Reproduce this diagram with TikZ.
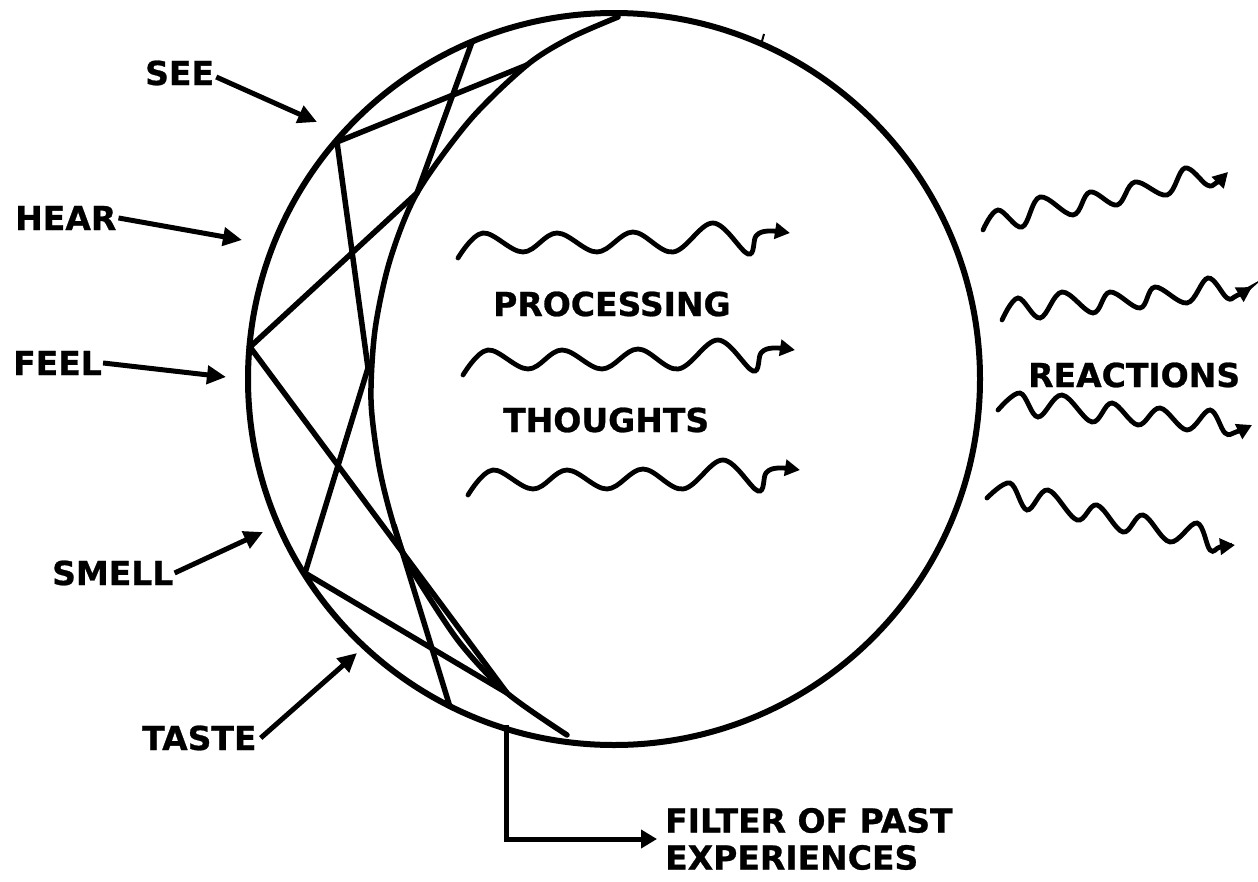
\documentclass[tikz,border=0pt]{standalone}
\usepackage{fontspec}
\setmainfont{DejaVu Sans}[BoldFeatures={FakeBold=0.8}]
\usetikzlibrary{arrows.meta}
\begin{document}
\begin{tikzpicture}[x=1pt,y=-1pt,
  lbl/.style={font=\fontsize{33}{37}\selectfont\bfseries, inner sep=0pt, anchor=base west},
  pointer/.style={line width=5pt, -{Triangle[length=19pt,width=18pt]}},
  rim/.style={line width=6pt},
  filterline/.style={line width=5.5pt, line join=miter, miter limit=3},
  wave/.style={line width=4.8pt, line cap=round, -{Triangle[length=15pt,width=16pt]}},
  thinkwave/.pic={
    \draw[wave] plot[smooth, tension=0.6] coordinates {(0,0) (25,-25) (65,-6) (99,-25) (139,-6) (175,-26) (215,-6) (255,-35) (290,-4) (298,-22) (310,-27) (332,-25)};
  }
]
\fill[white] (0,0) rectangle (1258,881);
\useasboundingbox (0,0) rectangle (1258,881);

% the mind
\node[circle, draw, rim, minimum size=732pt, inner sep=0pt] (mind) at (614,379) {};
\draw[line width=2pt] (762,41) -- (764,34);

% filter of past experiences: inner boundary and zigzag
\draw[filterline, line cap=round] plot[smooth] coordinates {(618,17) (570,38) (527,65) (470,120) (417,193) (390,260) (375,330) (371,400) (378,460) (388,505) (403,553) (420,583) (460,643) (507,693) (567,735)};
\draw[filterline] (472,42) -- (417,193) -- (250,347) -- (507,693) -- (305,573) -- (368,368) -- (337,142) -- (527,65);
\draw[filterline] (394,525) -- (450,707);

% senses
\node[lbl] (see) at (145,85) {SEE};
\node[lbl] (hear) at (15,230) {HEAR};
\node[lbl] (feel) at (13,375) {FEEL};
\node[lbl] (smell) at (52,585) {SMELL};
\node[lbl] (taste) at (142,750) {TASTE};
\coordinate (seetip) at (317,122);
\coordinate (heartip) at (242,240);
\coordinate (feeltip) at (226,377);
\coordinate (smelltip) at (263,532);
\coordinate (tastetip) at (357,653);
\draw[pointer] ([xshift=2pt,yshift=-4pt]see.east) -- (seetip);
\draw[pointer] ([xshift=2pt]hear.east) -- (heartip);
\draw[pointer] ([xshift=1pt]feel.east) -- (feeltip);
\draw[pointer] ([xshift=1pt]smell.east) -- (smelltip);
\draw[pointer] ([xshift=4pt]taste.east) -- (tastetip);

% inside the mind
\node[lbl] (processing) at (493,316) {PROCESSING};
\node[lbl] (thoughts) at (503,432) {THOUGHTS};
\pic at (458,258) {thinkwave};
\pic at (463,375) {thinkwave};
\pic at (468,495) {thinkwave};

% reactions
\node[lbl] (reactions) at (1028,387) {REACTIONS};
\draw[wave] plot[smooth, tension=0.6] coordinates {(983,230) (998,210) (1022,227) (1040,197) (1073,215) (1090,192) (1117,205) (1135,182) (1167,195) (1185,168) (1207,185) (1216,183) (1228,172)};
\draw[wave] plot[smooth, tension=0.6] coordinates {(1002,320) (1018,298) (1040,318) (1062,292) (1093,313) (1110,292) (1140,308) (1155,287) (1187,303) (1208,278) (1227,298) (1236,296) (1252,287)};
\draw[wave] plot[smooth, tension=0.6] coordinates {(998,410) (1020,393) (1038,417) (1062,395) (1092,422) (1112,403) (1138,425) (1160,408) (1187,430) (1210,410) (1225,433) (1236,432) (1252,425)};
\draw[wave] plot[smooth, tension=0.6] coordinates {(987,498) (1010,483) (1027,510) (1048,490) (1077,520) (1097,505) (1123,532) (1143,515) (1170,542) (1197,523) (1210,550) (1220,547) (1235,545)};

% filter label
\node[lbl, anchor=west, align=left] (filt) at (665,839) {FILTER OF PAST\\EXPERIENCES};
\coordinate (filtertop) at (506,725);
\draw[line width=5pt, -{Triangle[length=16pt,width=18pt]}] (filtertop) |- ([xshift=-8pt]filt.west);
\end{tikzpicture}
\end{document}
